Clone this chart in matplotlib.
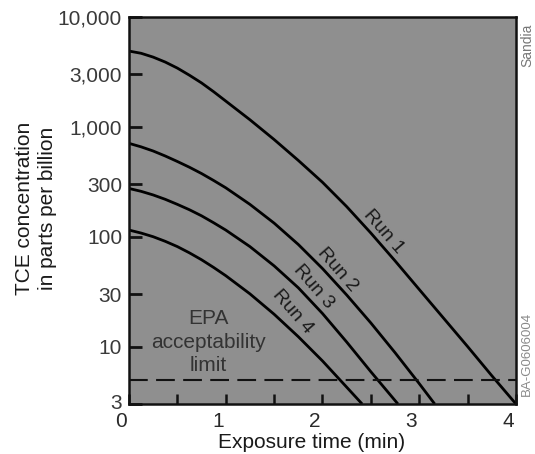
import matplotlib.pyplot as plt
import matplotlib as mpl
from matplotlib.transforms import ScaledTranslation

mpl.rcParams['font.family'] = ['Liberation Sans', 'DejaVu Sans']

# Exposure time (min) and TCE concentration (ppb)
t_run1 = [0, 0.125, 0.25, 0.375, 0.5, 0.625, 0.75, 0.875, 1.0, 1.25, 1.5, 1.75, 2.0, 2.25,
          2.5, 2.75, 3.0, 3.25, 3.5, 3.75, 4.0]
c_run1 = [4900, 4677, 4315, 3890, 3428, 2951, 2512, 2089, 1718, 1161, 767, 495, 313, 188,
          108, 60.3, 33.1, 18.2, 10.0, 5.43, 3.0]

t_run2 = [0, 0.125, 0.25, 0.375, 0.5, 0.625, 0.75, 0.875, 1.0, 1.25, 1.5, 1.75, 2.0, 2.25,
          2.5, 2.75, 3.0, 3.16]
c_run2 = [708, 658, 603, 543, 484, 429, 376, 325, 279, 197, 133, 85, 51.3, 29.5,
          16.4, 8.8, 4.6, 3.0]

t_run3 = [0, 0.125, 0.25, 0.375, 0.5, 0.625, 0.75, 0.875, 1.0, 1.25, 1.5, 1.75, 2.0, 2.25,
          2.5, 2.78]
c_run3 = [275, 259, 240, 219, 197, 176, 155, 134, 115, 81.3, 54.3, 34.3, 20.0, 11.0,
          5.9, 3.0]

t_run4 = [0, 0.125, 0.25, 0.375, 0.5, 0.625, 0.75, 0.875, 1.0, 1.25, 1.5, 1.75, 2.0, 2.25,
          2.41]
c_run4 = [115, 108, 100, 90.8, 81.3, 71.3, 61.7, 52.5, 44.2, 30.2, 19.7, 12.3, 7.4, 4.27,
          3.0]

epa_limit = 5

y_ticks = [3, 10, 30, 100, 300, 1000, 3000, 10000]
y_labels = ['3', '10', '30', '100', '300', '1,000', '3,000', '10,000']
x_ticks = [0, 1, 2, 3, 4]

# 运行标签位置 (time, ppb)
run_names = ['Run 1', 'Run 2', 'Run 3', 'Run 4']
run_label_t = [2.63, 2.16, 1.905, 1.69]
run_label_c = [111, 50, 35, 20.8]

fig = plt.figure(figsize=(5.35, 4.54), dpi=100)
ax = fig.add_axes([0.2411, 0.1101, 0.7234, 0.8524])
ax.set_facecolor('#8f8f8f')

for t, c in [(t_run1, c_run1), (t_run2, c_run2), (t_run3, c_run3), (t_run4, c_run4)]:
    ax.plot(t, c, color='black', lw=2.0, solid_capstyle='butt', solid_joinstyle='round')

ax.axhline(epa_limit, color='#111111', lw=1.5, dashes=(9, 4))

ax.set_yscale('log')
ax.set_xlim(0, 4)
ax.set_ylim(3, 10000)

ax.set_yticks(y_ticks)
ax.set_yticklabels(y_labels)
ax.yaxis.set_minor_locator(mpl.ticker.NullLocator())
ax.set_xticks(x_ticks)
ax.set_xticks([0.5, 1.5, 2.5, 3.5], minor=True)

ax.tick_params(axis='y', direction='in', length=9, width=2, pad=5,
               labelsize=15, labelcolor='#3a3a3a', color='#111111')
ax.tick_params(axis='x', which='both', direction='in', length=7, width=1.8, pad=6,
               labelsize=15, labelcolor='#2a2a2a', color='#111111')

# x 刻度标签在原图中略微偏左
shift = ScaledTranslation(-8 / 100, 0, fig.dpi_scale_trans)
for lab in ax.get_xticklabels():
    lab.set_transform(lab.get_transform() + shift)

# 底部的 "3" 稍微上移，避免与 "0" 重叠
up = ScaledTranslation(0, 3 / 100, fig.dpi_scale_trans)
ylab0 = ax.get_yticklabels()[0]
ylab0.set_transform(ylab0.get_transform() + up)

for s in ax.spines.values():
    s.set_linewidth(1.8)
    s.set_color('#111111')

for name, t, c in zip(run_names, run_label_t, run_label_c):
    ax.text(t, c, name, rotation=-49, rotation_mode='anchor', ha='center', va='center',
            fontsize=14, color='#1a1a1a')

ax.text(0.82, 11, 'EPA\nacceptability\nlimit', ha='center', va='center',
        fontsize=15, color='#333333', linespacing=1.3)

fig.text(36 / 535, 1 - 208 / 454, 'TCE concentration\nin parts per billion', rotation=90,
         ha='center', va='center', fontsize=15, color='#1a1a1a', linespacing=1.3)
fig.text(312 / 535, 1 - 443 / 454, 'Exposure time (min)', ha='center', va='center',
         fontsize=15, color='#1a1a1a')

fig.text(527 / 535, 1 - 45 / 454, 'Sandia', rotation=90, ha='center', va='center',
         fontsize=10, color='#777777')
fig.text(527 / 535, 1 - 354 / 454, 'BA-G0606004', rotation=90, ha='center', va='center',
         fontsize=9.5, color='#8a8a8a')

fig.savefig('out.png', dpi=100)
plt.close(fig)
